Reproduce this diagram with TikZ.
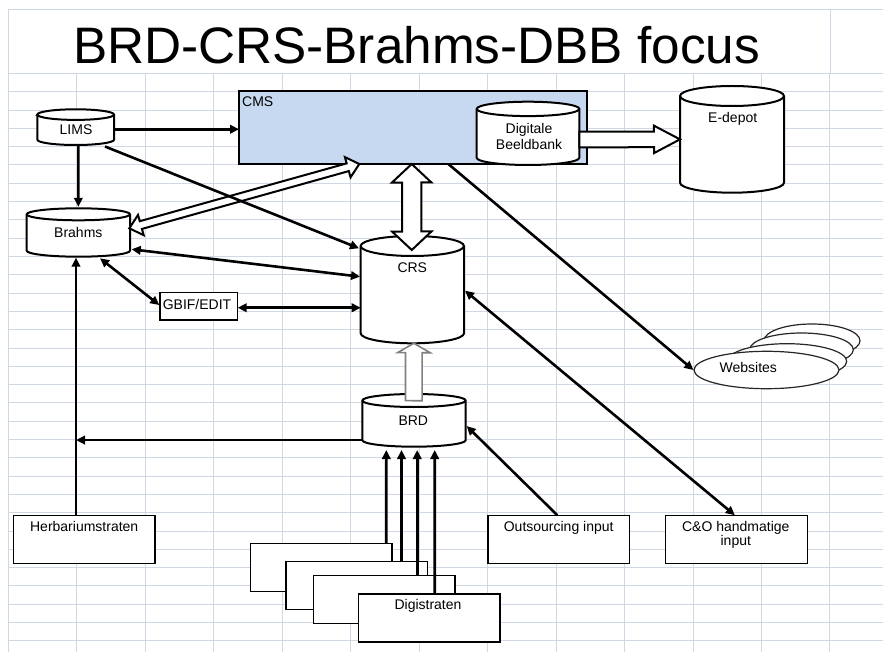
\documentclass[tikz,border=0pt]{standalone}
\usepackage{fontspec}
\setmainfont{Liberation Sans}
\usetikzlibrary{calc,arrows.meta,shapes.geometric}
\definecolor{gridc}{HTML}{D0D7E5}
\definecolor{cmsblue}{HTML}{C6D9F1}
\newcommand\drawcyl[3]{%
 \draw[cyl] ($(#1.north west)+(0,#3)$) -- ($(#1.south west)+(0,-#3)$)
   arc[start angle=180,end angle=360,x radius=#2pt,y radius=#3pt]
   -- ($(#1.north east)+(0,#3)$)
   arc[start angle=0,end angle=180,x radius=#2pt,y radius=#3pt] -- cycle;
 \draw[cyl,fill=none] ($(#1.north west)+(0,#3)$) arc[start angle=180,end angle=360,x radius=#2pt,y radius=#3pt];}
\newcommand\dblock[6]{%
 \coordinate (ba) at (#1); \coordinate (bb) at (#2);
 \coordinate (pa) at ($(ba)!#5!(bb)$);
 \coordinate (pb) at ($(bb)!#5!(ba)$);
 \draw[#6] (ba) -- ($(pa)!#4!90:(bb)$) -- ($(pa)!#3!90:(bb)$) -- ($(pb)!#3!-90:(ba)$) -- ($(pb)!#4!-90:(ba)$) -- (bb) -- ($(pb)!#4!90:(ba)$) -- ($(pb)!#3!90:(ba)$) -- ($(pa)!#3!-90:(bb)$) -- ($(pa)!#4!-90:(bb)$) -- cycle;}
\newcommand\sblock[6]{%
 \coordinate (ba) at (#1); \coordinate (bb) at (#2);
 \coordinate (pb) at ($(bb)!#5!(ba)$);
 \draw[#6] ($(ba)!#3!90:(bb)$) -- ($(pb)!#3!-90:(ba)$) -- ($(pb)!#4!-90:(ba)$) -- (bb) -- ($(pb)!#4!90:(ba)$) -- ($(pb)!#3!90:(ba)$) -- ($(ba)!#3!-90:(bb)$) -- cycle;}
\begin{document}
\begin{tikzpicture}[x=1pt,y=-1pt,
 grid/.style={draw=gridc,line width=1pt},
 cyl/.style={draw=black,fill=white,line width=2pt},
 shp/.style={draw=none,inner sep=0,outer sep=0},
 thinbox/.style={draw=black,fill=white,line width=1.3pt,inner sep=0,outer sep=0,minimum width=141.4pt,minimum height=48pt},
 lbl/.style={font=\fontsize{14}{16}\selectfont,inner sep=0,anchor=base},
 arr/.style={line width=2.6pt,-{Triangle[length=9pt,width=8.5pt]}},
 darr/.style={line width=2.6pt,{Triangle[length=9pt,width=8.5pt]}-{Triangle[length=9pt,width=8.5pt]}},
 blk/.style={draw=black,fill=white,line width=2pt,line join=miter},
 blkg/.style={draw=black!50,fill=white,line width=1.6pt,line join=miter},
 web/.style={ellipse,draw=black!85,fill=white,line width=1.2pt,inner sep=0}]
\useasboundingbox (0,0) rectangle (883,652);
% grid
\draw[grid] (8.4,10) -- (883,10);
\foreach \k in {0,...,31}{\draw[grid] (8.4,{73.5+18.3*\k}) -- (883,{73.5+18.3*\k});}
\foreach \k in {0,...,12}{\draw[grid] ({8.4+68.46*\k},73.5) -- ({8.4+68.46*\k},652);}
\draw[grid] (8.4,10) -- (8.4,73.5) (830,10) -- (830,73.5);
% title
\node[font=\fontsize{51.3}{60}\selectfont,anchor=base,inner sep=0] (title) at (416.5,63.3) {BRD-CRS-Brahms-DBB focus};
% CMS
\node[shp,minimum width=348pt,minimum height=73pt,draw=black,fill=cmsblue,line width=2.4pt] (cms) at (413,127.5) {};
\node[lbl,anchor=base west] (cmst) at (242,106.5) {CMS};
% cylinders
\node[shp,minimum width=76.7pt,minimum height=35.7pt] (lims) at (75.7,127.15) {};
\drawcyl{lims}{38.35}{5.3}
\node[shp,minimum width=103.3pt,minimum height=48.4pt] (brahms) at (78.35,232.5) {};
\drawcyl{brahms}{51.65}{6}
\node[shp,minimum width=102.6pt,minimum height=63.3pt] (dbb) at (528,133.35) {};
\drawcyl{dbb}{51.3}{7.2}
\node[shp,minimum width=104pt,minimum height=106.7pt] (edepot) at (732,139.35) {};
\drawcyl{edepot}{52}{10}
\node[shp,minimum width=103.3pt,minimum height=107.3pt] (crs) at (412.35,289.65) {};
\drawcyl{crs}{51.65}{10}
\node[shp,minimum width=103.4pt,minimum height=52.7pt] (brd) at (414,420.35) {};
\drawcyl{brd}{51.7}{6.5}
% boxes
\node[thinbox,minimum width=77.7pt,minimum height=27.3pt] (gbif) at (198.85,306.35) {};
\node[thinbox] (herb) at (84.4,539.2) {};
\node[thinbox] (outs) at (558.8,539.2) {};
\node[thinbox] (co) at (736.5,539.2) {};
\node[thinbox] (d1) at (321.25,567.5) {};
\node[thinbox] (d2) at (356.7,585.65) {};
\node[thinbox] (d3) at (384.3,599.3) {};
\node[thinbox] (d4) at (429.35,617.85) {};
% websites
\node[web,minimum width=96pt,minimum height=33.4pt] (web3) at (812,340.7) {};
\node[web,minimum width=103.6pt,minimum height=33.4pt] (web2) at (801.5,349.7) {};
\node[web,minimum width=119.4pt,minimum height=35.2pt] (web1) at (787,361.3) {};
\node[web,minimum width=145pt,minimum height=37.4pt] (web) at (766.5,370) {};
% block arrows
\dblock{[xshift=-0.7pt,yshift=4.2pt]brahms.east}{[xshift=-53.7pt]cms.south}{4pt}{10.5pt}{12pt}{blk}
\dblock{[xshift=-1.3pt]cms.south}{[xshift=-0.6pt,yshift=-14pt]crs.north}{9.7pt}{19.7pt}{18.5pt}{blk}
\sblock{[yshift=-6.2pt]dbb.east}{edepot.west}{7.8pt}{13.7pt}{26pt}{blk}
\sblock{[xshift=-0.2pt,yshift=-6.7pt]brd.north}{[xshift=1.5pt]crs.south}{8.3pt}{16.3pt}{9.4pt}{blkg}
% connectors
\coordinate (l1) at ([yshift=-2.1pt]lims.east);
\draw[arr] (l1) -- (l1 -| cms.west);
\draw[arr] ([xshift=2.6pt]lims.south) -- ([yshift=1.5pt]brahms.north);
\draw[arr] ([xshift=29.3pt,yshift=-1.5pt]lims.south) -- ([xshift=-1.7pt,yshift=-12.3pt]crs.north west);
\draw[darr] ([xshift=1.7pt,yshift=-16.8pt]brahms.east) -- ([xshift=-0.7pt,yshift=13pt]crs.west);
\draw[darr] ([xshift=21.7pt,yshift=-1.6pt]brahms.south) -- ([xshift=-0.7pt,yshift=1.3pt]gbif.west);
\coordinate (g1) at ([yshift=-1.4pt]gbif.east);
\draw[darr,line width=3.2pt] (g1) -- (g1 -| crs.west);
\draw[arr] ([xshift=35.3pt]cms.south) -- (web.west);
\draw[darr] ([xshift=1pt,yshift=-1pt]crs.east) -- ([xshift=-1.7pt]co.north);
\draw[arr] ([xshift=-1.5pt]outs.north) -- ([xshift=1pt,yshift=-5.7pt]brd.east);
\coordinate (hx) at ([xshift=-8.4pt]herb.north);
\draw[arr] (hx) -- ([xshift=-2.35pt,yshift=-1pt]brahms.south);
\coordinate (b1) at ([yshift=-19.7pt]brd.west);
\draw[arr] (b1) -- (b1 -| hx);
\draw[arr] ([xshift=65pt]d1.north) -- ([xshift=-27.7pt,yshift=-3.3pt]brd.south);
\draw[arr] ([xshift=44.8pt]d2.north) -- ([xshift=-12.5pt,yshift=-3.3pt]brd.south);
\draw[arr] ([xshift=32.9pt]d3.north) -- ([xshift=3.2pt,yshift=-3.3pt]brd.south);
\draw[arr] ([xshift=5.35pt]d4.north) -- ([xshift=20.7pt,yshift=-3.3pt]brd.south);
% texts
\node[lbl] (limst) at (76,134.8) {LIMS};
\node[lbl] (brahmst) at (78.3,237.5) {Brahms};
\node[lbl] (dbbt1) at (529,134) {Digitale};
\node[lbl] (dbbt2) at (529,149.2) {Beeldbank};
\node[lbl] (edepott) at (732.7,122.6) {E-depot};
\node[lbl] (crst) at (412.3,272.7) {CRS};
\node[lbl] (brdt) at (413.3,425) {BRD};
\node[lbl] (gbift) at (197,309.3) {GBIF/EDIT};
\node[lbl] (webt) at (748.3,372.3) {Websites};
\node[lbl] (herbt) at (84.2,531) {Herbariumstraten};
\node[lbl] (outst) at (558.7,531) {Outsourcing input};
\node[lbl] (cot1) at (735.8,531.5) {C\&O handmatige};
\node[lbl] (cot2) at (735.8,545.2) {input};
\node[lbl] (digit) at (428,609) {Digistraten};
\end{tikzpicture}
\end{document}
